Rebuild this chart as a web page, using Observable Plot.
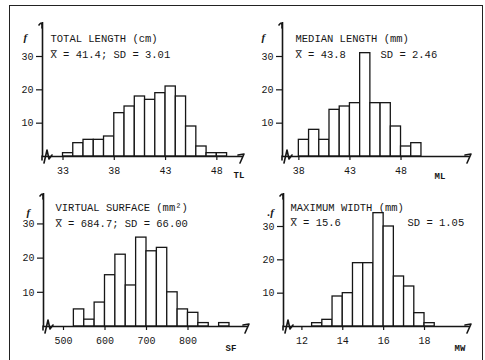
<!DOCTYPE html>
<html><head><meta charset="utf-8">
<script src="https://cdn.jsdelivr.net/npm/d3@7"></script>
<script src="https://cdn.jsdelivr.net/npm/@observablehq/plot@0.6"></script>
<style>
html,body{margin:0;padding:0;background:#fff;}
#fig{position:relative;width:485px;height:360px;overflow:hidden;background:#fff;}
#frame{position:absolute;left:9px;top:5px;width:472px;height:370px;border-left:1.5px solid #222;border-top:1.5px solid #222;border-right:1.5px solid #222;}
.panel{position:absolute;}
</style></head><body><div id="fig"><div id="frame"></div></div>
<script>
// ---- data ----
const tlBins = [33,34,35,36,37,38,39,40,41,42,43,44,45,46,47,48];
const tlCounts = [1,4,5,5,6,13,15,18,17,19,21,18,9,3,1,1];
const tlTicks = [33,38,43,48];

const mlBins = [38,39,40,41,42,43,44,45,46,47,48,49];
const mlCounts = [5,8,5,14,15,16,31,16,16,9,3,4];
const mlTicks = [38,43,48];

const sfBins = [525,550,575,600,625,650,675,700,725,750,775,800,825,850,875];
const sfCounts = [5,2,7,15,21,12,26,22,23,10,5,4,1,0,1];
const sfTicks = [500,600,700,800];

const mwBins = [12.5,13,13.5,14,14.5,15,15.5,16,16.5,17,17.5,18];
const mwCounts = [1,2,9,10,19,19,34,30,15,12,4,1];
const mwTicks = [12,14,16,18];

const yTicks = [10,20,30];

const MONO = "'Liberation Mono', 'DejaVu Sans Mono', monospace";
const INK = "#161616";

function label(str, anchor, dx, dy, opts = {}) {
  return Plot.text([str], Object.assign({text: d => d, frameAnchor: anchor, dx, dy,
    textAnchor: "start", fontFamily: MONO, fontSize: 10.5, fill: INK}, opts));
}

function panel(cfg) {
  const idx = d3.range(cfg.bins.length).filter(i => cfg.counts[i] > 0);
  const marks = [
    Plot.rectY(idx, {x1: i => cfg.bins[i], x2: i => cfg.bins[i] + cfg.binWidth, y: i => cfg.counts[i],
      fill: "white", stroke: INK, strokeWidth: 1.3}),
    Plot.ruleY([0], {stroke: INK, strokeWidth: 1.6}),
    Plot.ruleX([cfg.xDomain[0]], {stroke: INK, strokeWidth: 1.6}),
    Plot.axisX(cfg.xTicks, {tickSize: 4, tickPadding: 6, fontSize: 10, label: null, stroke: INK, strokeWidth: 1.2, fontFamily: MONO}),
    Plot.axisY(yTicks, {tickSize: 6, tickPadding: 3, fontSize: 10, label: null, stroke: INK, strokeWidth: 1.2, fontFamily: MONO}),
    label(cfg.title, "top-left", cfg.tdx, cfg.tdy),
    label(cfg.stat1, "top-left", cfg.tdx, cfg.sdy),
    label(cfg.fLabel, "top-left", cfg.fdx, cfg.fdy,
      {fontFamily: "'Liberation Serif', serif", fontStyle: "italic", fontWeight: "bold", fontSize: 11}),
    label(cfg.axisLabel, "bottom-right", cfg.adx, cfg.ady, {fontWeight: "bold", fontSize: 9})
  ];
  if (cfg.stat2) marks.push(label(cfg.stat2, "top-left", cfg.s2dx, cfg.sdy));
  const plot = Plot.plot({
    width: cfg.width, height: cfg.height,
    marginLeft: cfg.ml, marginRight: cfg.mr, marginTop: cfg.mt, marginBottom: cfg.mb,
    x: {domain: cfg.xDomain},
    y: {domain: cfg.yDomain},
    style: {fontFamily: MONO, fontSize: "10px", color: INK, background: "transparent", overflow: "visible"},
    marks
  });
  // Hand-drawn style decorations placed through the plot's own scales
  const xs = plot.scale("x"), ys = plot.scale("y");
  const x0 = xs.apply(cfg.xDomain[0]), xe = xs.apply(cfg.xDomain[1]);
  const yb = ys.apply(0), yt = ys.apply(cfg.yDomain[1]);
  const deco = d3.select(plot).append("g").attr("fill", "none").attr("stroke", INK).attr("stroke-width", 1.6)
    .attr("stroke-linecap", "round").attr("stroke-linejoin", "round");
  deco.append("path").attr("d", `M${x0},${yt + 6} Q${x0 + 0.5},${yt - 2} ${x0 - 3},${yt + 3}`);
  deco.append("path").attr("d", `M${x0},${yb} L${x0},${yb + 4} M${x0 + 2},${yb + 7} L${x0 + 5},${yb - 6} L${x0 + 7},${yb + 3} L${x0 + 10},${yb - 1}`);
  deco.append("path").attr("d", `M${xe - 5},${yb - 1} L${xe + 1},${yb - 2} L${xe - 3},${yb + 7}`);
  const wrap = document.createElement("div");
  wrap.className = "panel";
  wrap.style.left = cfg.left + "px";
  wrap.style.top = cfg.top + "px";
  wrap.appendChild(plot);
  document.getElementById("fig").appendChild(wrap);
}

panel({
  left: 0, top: 0, width: 245, height: 180, ml: 42, mr: 2, mt: 22, mb: 24,
  xDomain: [31, 50.6], yDomain: [0, 40.2], bins: tlBins, counts: tlCounts, binWidth: 1, xTicks: tlTicks,
  title: "TOTAL LENGTH (cm)", stat1: "X\u0305 = 41.4; SD = 3.01", tdx: 8, tdy: 12, sdy: 28,
  fLabel: "f", fdx: -19, fdy: 11, axisLabel: "TL", adx: -10, ady: 21
});
panel({
  left: 240, top: 0, width: 245, height: 180, ml: 42, mr: 15, mt: 22, mb: 24,
  xDomain: [36.4, 54.8], yDomain: [0, 40.2], bins: mlBins, counts: mlCounts, binWidth: 1, xTicks: mlTicks,
  title: "MEDIAN LENGTH (mm)", stat1: "X\u0305 = 43.8", stat2: "SD = 2.46", tdx: 13, tdy: 12, sdy: 28, s2dx: 98,
  fLabel: "f", fdx: -21, fdy: 11, axisLabel: "ML", adx: -36, ady: 22
});
panel({
  left: 0, top: 170, width: 250, height: 190, ml: 43, mr: 2, mt: 23, mb: 34,
  xDomain: [451.8, 945.8], yDomain: [0, 38.9], bins: sfBins, counts: sfCounts, binWidth: 25, xTicks: sfTicks,
  title: "VIRTUAL SURFACE (mm\u00B2)", stat1: "X\u0305 = 684.7; SD = 66.00", tdx: 12, tdy: 10, sdy: 26,
  fLabel: "f", fdx: -17, fdy: 15, axisLabel: "SF", adx: -23, ady: 24
});
panel({
  left: 240, top: 170, width: 245, height: 190, ml: 43, mr: 15, mt: 23, mb: 34,
  xDomain: [11.1, 20.25], yDomain: [0, 39.9], bins: mwBins, counts: mwCounts, binWidth: 0.5, xTicks: mwTicks,
  title: "MAXIMUM WIDTH (mm)", stat1: "X\u0305 = 15.6", stat2: "SD = 1.05", tdx: 7, tdy: 10, sdy: 25, s2dx: 124,
  fLabel: ".f", fdx: -16, fdy: 15, axisLabel: "MW", adx: -16, ady: 24
});
</script></body></html>
